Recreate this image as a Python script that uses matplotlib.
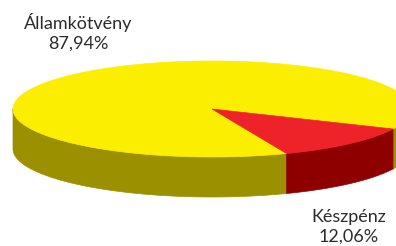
import numpy as np
import matplotlib.pyplot as plt
from matplotlib.patches import Polygon

labels = ['Államkötvény', 'Készpénz']
values = [87.94, 12.06]
top_colors = ['#fcee00', '#ee2229']
side_colors = ['#9a9000', '#8e0000']

# geometry in pixel space
cx, cy = 212, 109
a, b = 199, 48
depth = 40
start = 68.0  # angle (deg, screen clockwise) where first slice starts

fig = plt.figure(figsize=(3.96, 2.46), dpi=100)
ax = fig.add_axes([0, 0, 1, 1])
ax.set_xlim(0, 396)
ax.set_ylim(246, 0)
ax.axis('off')

def pt(t, dy=0):
    t = np.radians(t)
    return cx + a * np.cos(t), cy + b * np.sin(t) + dy

spans = []
t0 = start
for v in values:
    t1 = t0 + 360 * v / 100
    spans.append((t0, t1))
    t0 = t1

# sides (front half only: 0..180 deg, also 360..540)
for (s, e), col in zip(spans, side_colors):
    for off in (0, 360):
        lo = max(s, 0 + off)
        hi = min(e, 180 + off)
        if hi <= lo:
            continue
        ts = np.linspace(lo, hi, 100)
        xs, ys = pt(ts)
        xb, yb = pt(ts[::-1], depth)
        poly = np.column_stack([np.r_[xs, xb], np.r_[ys, yb]])
        ax.add_patch(Polygon(poly, closed=True, fc=col, ec=col, lw=0.5))

# tops
for (s, e), col in zip(spans, top_colors):
    ts = np.linspace(s, e, 300)
    xs, ys = pt(ts)
    poly = np.column_stack([np.r_[cx, xs], np.r_[cy, ys]])
    ax.add_patch(Polygon(poly, closed=True, fc=col, ec=col, lw=0.5))

font = dict(family=['Lato', 'DejaVu Sans'], fontsize=13, color='#2b2b2b', ha='center', va='baseline')
ax.text(78, 29, labels[0], **font)
ax.text(78, 49, f'{values[0]:.2f}%'.replace('.', ','), **font)
ax.text(349, 222, labels[1], **font)
ax.text(349, 242, f'{values[1]:.2f}%'.replace('.', ','), **font)

fig.savefig('out.png', dpi=100)
